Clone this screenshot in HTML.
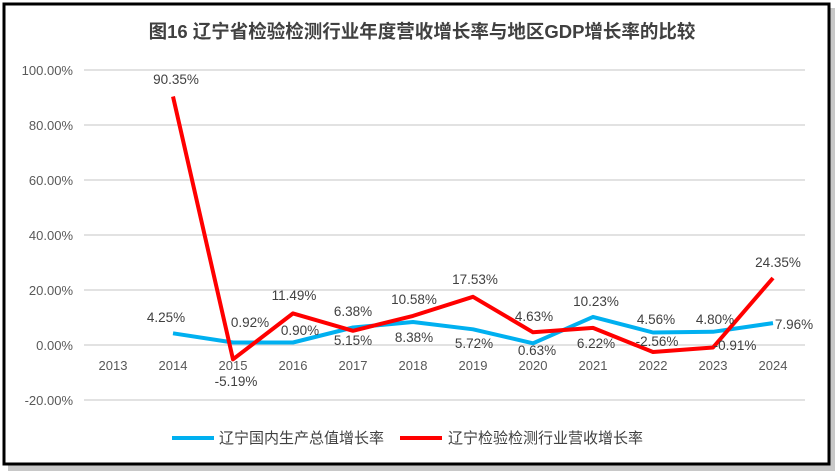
<!DOCTYPE html>
<html><head><meta charset="utf-8"><style>
html,body{margin:0;padding:0;background:#fff;}
svg{display:block;font-family:"Liberation Sans","Noto Sans CJK SC",sans-serif;}
</style></head><body>
<svg width="838" height="475" viewBox="0 0 838 475" xmlns="http://www.w3.org/2000/svg">
<rect x="0" y="0" width="838" height="475" fill="#fff"/>
<rect x="8" y="8" width="827" height="463" fill="#c8c8c8"/>
<rect x="4" y="4" width="825" height="460" fill="#fff" stroke="#000" stroke-width="3"/>
<text x="422" y="38" text-anchor="middle" font-size="18.5" font-weight="bold" fill="#404040">图16  辽宁省检验检测行业年度营收增长率与地区GDP增长率的比较</text>
<g stroke="#d9d9d9" stroke-width="1.5">
<line x1="84" x2="805" y1="70" y2="70"/><line x1="84" x2="805" y1="125" y2="125"/>
<line x1="84" x2="805" y1="180" y2="180"/><line x1="84" x2="805" y1="235" y2="235"/>
<line x1="84" x2="805" y1="290" y2="290"/><line x1="84" x2="805" y1="345" y2="345"/>
<line x1="84" x2="805" y1="400" y2="400"/></g>
<g font-size="13" fill="#595959" text-anchor="end">
<text x="73" y="75">100.00%</text><text x="73" y="130">80.00%</text><text x="73" y="185">60.00%</text>
<text x="73" y="240">40.00%</text><text x="73" y="295">20.00%</text><text x="73" y="350">0.00%</text>
<text x="73" y="405">-20.00%</text></g>
<g font-size="13" fill="#595959" text-anchor="middle">
<text x="113" y="370">2013</text><text x="173" y="370">2014</text><text x="233" y="370">2015</text>
<text x="293" y="370">2016</text><text x="353" y="370">2017</text><text x="413" y="370">2018</text>
<text x="473" y="370">2019</text><text x="533" y="370">2020</text><text x="593" y="370">2021</text>
<text x="653" y="370">2022</text><text x="713" y="370">2023</text><text x="773" y="370">2024</text></g>
<polyline fill="none" stroke="#00b0f0" stroke-width="4" stroke-linejoin="round" points="173,333.3 233,342.5 293,342.5 353,327.5 413,322 473,329.3 533,343.3 593,316.9 653,332.5 713,331.8 773,323.1"/>
<polyline fill="none" stroke="#ff0000" stroke-width="4" stroke-linejoin="round" points="173,96.5 233,359.3 293,313.4 353,330.8 413,315.9 473,296.8 533,332.3 593,327.9 653,352 713,347.5 773,278"/>
<g font-size="13.5" fill="#404040" text-anchor="middle">
<text x="176" y="84">90.35%</text>
<text x="166" y="322">4.25%</text>
<text x="250" y="327">0.92%</text><text x="236" y="386">-5.19%</text>
<text x="294" y="300">11.49%</text><text x="300" y="335">0.90%</text>
<text x="353" y="316">6.38%</text><text x="353" y="345">5.15%</text>
<text x="414" y="304">10.58%</text><text x="414" y="342">8.38%</text>
<text x="475" y="284">17.53%</text><text x="474" y="348">5.72%</text>
<text x="534" y="321">4.63%</text><text x="537" y="355">0.63%</text>
<text x="596" y="306">10.23%</text><text x="596" y="348">6.22%</text>
<text x="656" y="324">4.56%</text><text x="657" y="346">-2.56%</text>
<text x="715" y="324">4.80%</text><text x="735" y="350">-0.91%</text>
<text x="778" y="267">24.35%</text><text x="794" y="329">7.96%</text>
</g>
<line x1="172" x2="214" y1="438" y2="438" stroke="#00b0f0" stroke-width="4"/>
<text x="219" y="443" font-size="15" fill="#404040">辽宁国内生产总值增长率</text>
<line x1="400" x2="442" y1="438" y2="438" stroke="#ff0000" stroke-width="4"/>
<text x="448" y="443" font-size="15" fill="#404040">辽宁检验检测行业营收增长率</text>
</svg>
</body></html>
